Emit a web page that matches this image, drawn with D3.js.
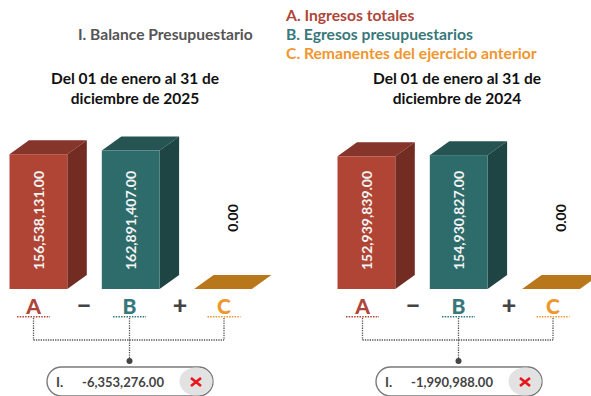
<!DOCTYPE html>
<html>
<head>
<meta charset="utf-8">
<script src="https://cdn.jsdelivr.net/npm/d3@7"></script>
<style>
    body { margin: 0; background: #fff; }
    text { font-family: Lato, "Open Sans", sans-serif; }
</style>
</head>
<body>
<svg id="chart" width="591" height="396"></svg>
<script>
const categories = ["A", "B", "C"];
const signs = ["−", "+"];
const legendLabels = ["A. Ingresos totales", "B. Egresos presupuestarios", "C. Remanentes del ejercicio anterior"];
const periods = ["Del 01 de enero al 31 de|diciembre de 2025", "Del 01 de enero al 31 de|diciembre de 2024"];
const values2025 = [156538131, 162891407, 0];
const values2024 = [152939839, 154930827, 0];
const balances = [-6353276, -1990988];

const frontColors = ["#b04535", "#2e6b6b", "#b9771c"];
const sideColors = ["#722c22", "#1e4544", "#b9771c"];
const topColors = ["#85352a", "#265453", "#b9771c"];
const labelColors = ["#b0463a", "#38787a", "#f0962e"];

const fmt = d3.format(",.2f");
const svg = d3.select("#chart");

// the 3d bars of the original are not quite to scale, so the scale bends above 150M
const yScale = d3.scaleLinear().domain([0, 150e6, 170e6]).range([0, 131, 142.6]);
const xScale = d3.scalePoint().domain(categories).range([0, 184.6]);
const baseY = 289, barW = 57.8, depthX = 19.5, depthY = 14;

function drawPanel(offset, values, period, balance) {
    const g = svg.append("g");
    const lx = offset === 0 ? 0 : 329;

    // titulo del periodo
    const lines = period.split("|");
    lines.forEach(function (l, i) {
        g.append("text").attr("x", offset === 0 ? 135 : 457).attr("y", 78 + i * 19.5)
            .attr("text-anchor", "middle").attr("dominant-baseline", "central")
            .attr("font-size", 15.5).attr("font-weight", 700).attr("fill", "#111").text(l);
    });

    // barras
    categories.forEach(function (c, i) {
        const x0 = 9.5 + offset + xScale(c), x1 = x0 + barW;
        const h = yScale(values[i]), yTop = baseY - h;
        const pts = function (p) { return p.map(function (q) { return q.join(","); }).join(" "); };
        g.append("polygon").attr("fill", topColors[i])
            .attr("points", pts([[x0, yTop], [x0 + depthX, yTop - depthY], [x1 + depthX, yTop - depthY], [x1, yTop]]));
        if (h > 0) {
            g.append("polygon").attr("fill", sideColors[i])
                .attr("points", pts([[x1, yTop], [x1 + depthX, yTop - depthY], [x1 + depthX, baseY - depthY], [x1, baseY]]));
            g.append("rect").attr("x", x0).attr("y", yTop).attr("width", barW).attr("height", h).attr("fill", frontColors[i]);
        }

        const tx = h > 0 ? x0 + 29 : x0 + 38, ty = h > 0 ? 220.5 : 218;
        g.append("text").attr("transform", "translate(" + tx + "," + ty + ") rotate(-90)")
            .attr("text-anchor", "middle").attr("dominant-baseline", "central")
            .attr("font-size", 14).attr("font-weight", 700)
            .attr("fill", h > 0 ? "#f2f5f4" : "#111").text(fmt(values[i]));
    });

    // letras y signos
    const cx = [33.5, 129.5, 224];
    categories.forEach(function (c, i) {
        const x = cx[i] + lx;
        g.append("text").attr("x", x).attr("y", 305).attr("text-anchor", "middle").attr("dominant-baseline", "central")
            .attr("font-size", 21).attr("font-weight", 900).attr("fill", labelColors[i]).text(c);
        g.append("line").attr("x1", x - 16.5).attr("x2", x + 16.5).attr("y1", 316.7).attr("y2", 316.7)
            .attr("stroke", labelColors[i]).attr("stroke-width", 1.6).attr("stroke-dasharray", "1.5 1.2");
        g.append("line").attr("x1", x).attr("x2", x).attr("y1", 318).attr("y2", 340)
            .attr("stroke", "#555").attr("stroke-width", 1.3).attr("stroke-dasharray", "1.3 1.1");
    });
    [84, 180].forEach(function (x, i) {
        g.append("text").attr("x", x + lx).attr("y", 304).attr("text-anchor", "middle").attr("dominant-baseline", "central")
            .attr("font-size", 25).attr("font-weight", 900).attr("fill", "#444").text(signs[i]);
    });
    g.append("line").attr("x1", cx[0] + lx).attr("x2", cx[2] + lx).attr("y1", 340).attr("y2", 340)
        .attr("stroke", "#555").attr("stroke-width", 1.3).attr("stroke-dasharray", "1.3 1.1");
    g.append("line").attr("x1", cx[1] + lx).attr("x2", cx[1] + lx).attr("y1", 340).attr("y2", 360)
        .attr("stroke", "#555").attr("stroke-width", 1.3).attr("stroke-dasharray", "1.3 1.1");
    g.append("circle").attr("cx", cx[1] + lx).attr("cy", 361).attr("r", 3).attr("fill", "#444");

    // pastilla con el resultado
    g.append("rect").attr("x", 47 + lx).attr("y", 367).attr("width", 166).attr("height", 29).attr("rx", 14.5)
        .attr("fill", "#fff").attr("stroke", "#7a7a7a").attr("stroke-width", 1.4);
    g.append("ellipse").attr("cx", 196 + lx).attr("cy", 381.5).attr("rx", 16.5).attr("ry", 14).attr("fill", "#e2e2e2");
    g.append("text").attr("x", 56 + lx).attr("y", 382).attr("dominant-baseline", "central")
        .attr("font-size", 13.5).attr("font-weight", 700).attr("fill", "#444").text("I.");
    g.append("text").attr("x", 123 + lx).attr("y", 382).attr("text-anchor", "middle").attr("dominant-baseline", "central")
        .attr("font-size", 13).attr("font-weight", 700).attr("fill", "#444").text(fmt(balance).replace("−", "-"));
    g.append("path").attr("d", d3.line()([[-5, -4], [5, 4]]) + d3.line()([[5, -4], [-5, 4]]))
        .attr("transform", "translate(" + (196 + lx) + ",382)")
        .attr("stroke", "#e8141c").attr("stroke-width", 2.6).attr("fill", "none");
}

svg.append("text").attr("x", 78).attr("y", 34).attr("dominant-baseline", "central")
    .attr("font-size", 15.6).attr("font-weight", 700).attr("fill", "#555").text("I. Balance Presupuestario");

legendLabels.forEach(function (l, i) {
    svg.append("text").attr("x", 286).attr("y", 15 + i * 19).attr("dominant-baseline", "central")
        .attr("font-size", 15.7).attr("font-weight", 700).attr("fill", labelColors[i]).text(l);
});

drawPanel(0, values2025, periods[0], balances[0]);
drawPanel(328, values2024, periods[1], balances[1]);
</script>
</body>
</html>
